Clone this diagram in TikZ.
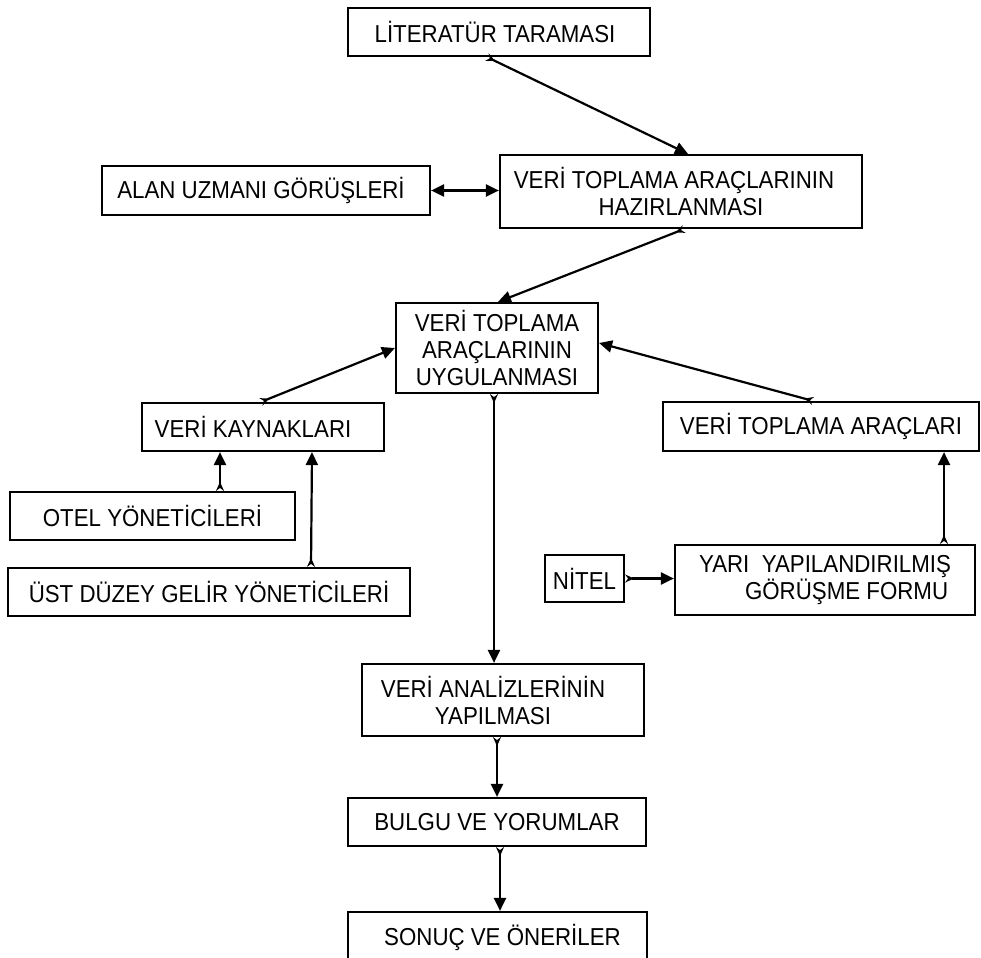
\documentclass[tikz,border=0pt]{standalone}
\usepackage{fontspec}
\setmainfont[FakeStretch=0.91]{Liberation Sans}
\usetikzlibrary{arrows.meta,calc}
\tikzset{
  box/.style={draw, line width=2.2pt, rectangle, inner sep=0pt, align=center,
    font=\fontsize{24.5}{27}\selectfont},
  arr/.style={line width=2.2pt, {Stealth[reversed,length=9pt,width=8pt,inset=3pt]}-{Triangle[length=13pt,width=12pt]}},
  biarr/.style={line width=2.2pt, {Triangle[length=13pt,width=12pt]}-{Triangle[length=13pt,width=12pt]}}
}
\begin{document}
\begin{tikzpicture}[x=1pt,y=-1pt]
\useasboundingbox (0,0) rectangle (981,957);
\clip (0,0) rectangle (981,957);
\fill[white] (0,0) rectangle (981,957);

\node[box, minimum width=302pt, minimum height=48pt] (lit) at (499,32) {LİTERATÜR TARAMASI\hspace*{8pt}};
\node[box, minimum width=328pt, minimum height=49pt] (alan) at (266,190.5) {ALAN UZMANI GÖRÜŞLERİ\hspace*{10pt}};
\node[box, minimum width=362pt, minimum height=73pt] (haz) at (681,191.5) {VERİ TOPLAMA ARAÇLARININ\hspace*{14pt}\\HAZIRLANMASI};
\node[box, minimum width=202pt, minimum height=90pt] (uyg) at (497,348) {VERİ TOPLAMA\\ARAÇLARININ\\UYGULANMASI};
\node[box, minimum width=242pt, minimum height=48pt] (kay) at (263,427) {VERİ KAYNAKLARI\hspace*{20pt}};
\node[box, minimum width=316pt, minimum height=49pt] (ara) at (821,426.5) {VERİ TOPLAMA ARAÇLARI};
\node[box, minimum width=285pt, minimum height=48pt] (otel) at (152.5,516) {OTEL YÖNETİCİLERİ};
\node[box, minimum width=402pt, minimum height=48pt] (ust) at (209,592) {ÜST DÜZEY GELİR YÖNETİCİLERİ};
\node[box, minimum width=79pt, minimum height=47pt] (nitel) at (584.5,578.5) {NİTEL};
\node[box, minimum width=300pt, minimum height=70pt, align=left] (yari) at (825,580) {YARI\ \ YAPILANDIRILMIŞ\\\hspace*{46pt}GÖRÜŞME FORMU};
\node[box, minimum width=282pt, minimum height=72pt] (anl) at (503,700) {VERİ ANALİZLERİNİN\hspace*{20pt}\\YAPILMASI\hspace*{20pt}};
\node[box, minimum width=298pt, minimum height=48pt] (bul) at (497,822) {BULGU VE YORUMLAR};
\node[box, minimum width=299pt, minimum height=50pt] (son) at (497.5,937) {\hspace*{10pt}SONUÇ VE ÖNERİLER};

\draw[arr] ($(lit.south)+(-12,0)$) -- ($(haz.north)+(7,0)$);
\draw[biarr] (alan.east) -- (alan.east -| haz.west);
\draw[arr] ($(haz.south)+(3,0)$) -- ($(uyg.north)+(1,0)$);
\draw[arr] ($(kay.north)+(-2,0)$) -- (uyg.west);
\draw[arr] ($(ara.north)+(-8,0)$) -- ($(uyg.east)+(0,-5)$);
\draw[arr] ($(uyg.south)+(-3,0)$) -- ($(anl.north)+(-9,0)$);
\draw[arr] ($(otel.north)+(67.5,0)$) -- ($(kay.south)+(-43,0)$);
\draw[arr] ($(ust.north)+(102,0)$) -- ($(kay.south)+(49,0)$);
\draw[arr] (nitel.east) -- (nitel.east -| yari.west);
\draw[arr] ($(yari.north)+(119,0)$) -- ($(ara.south)+(123,0)$);
\draw[arr] ($(anl.south)+(-6,0)$) -- ($(bul.north)+(0,0)$);
\draw[arr] ($(bul.south)+(3,0)$) -- ($(son.north)+(2.5,0)$);
\end{tikzpicture}
\end{document}
